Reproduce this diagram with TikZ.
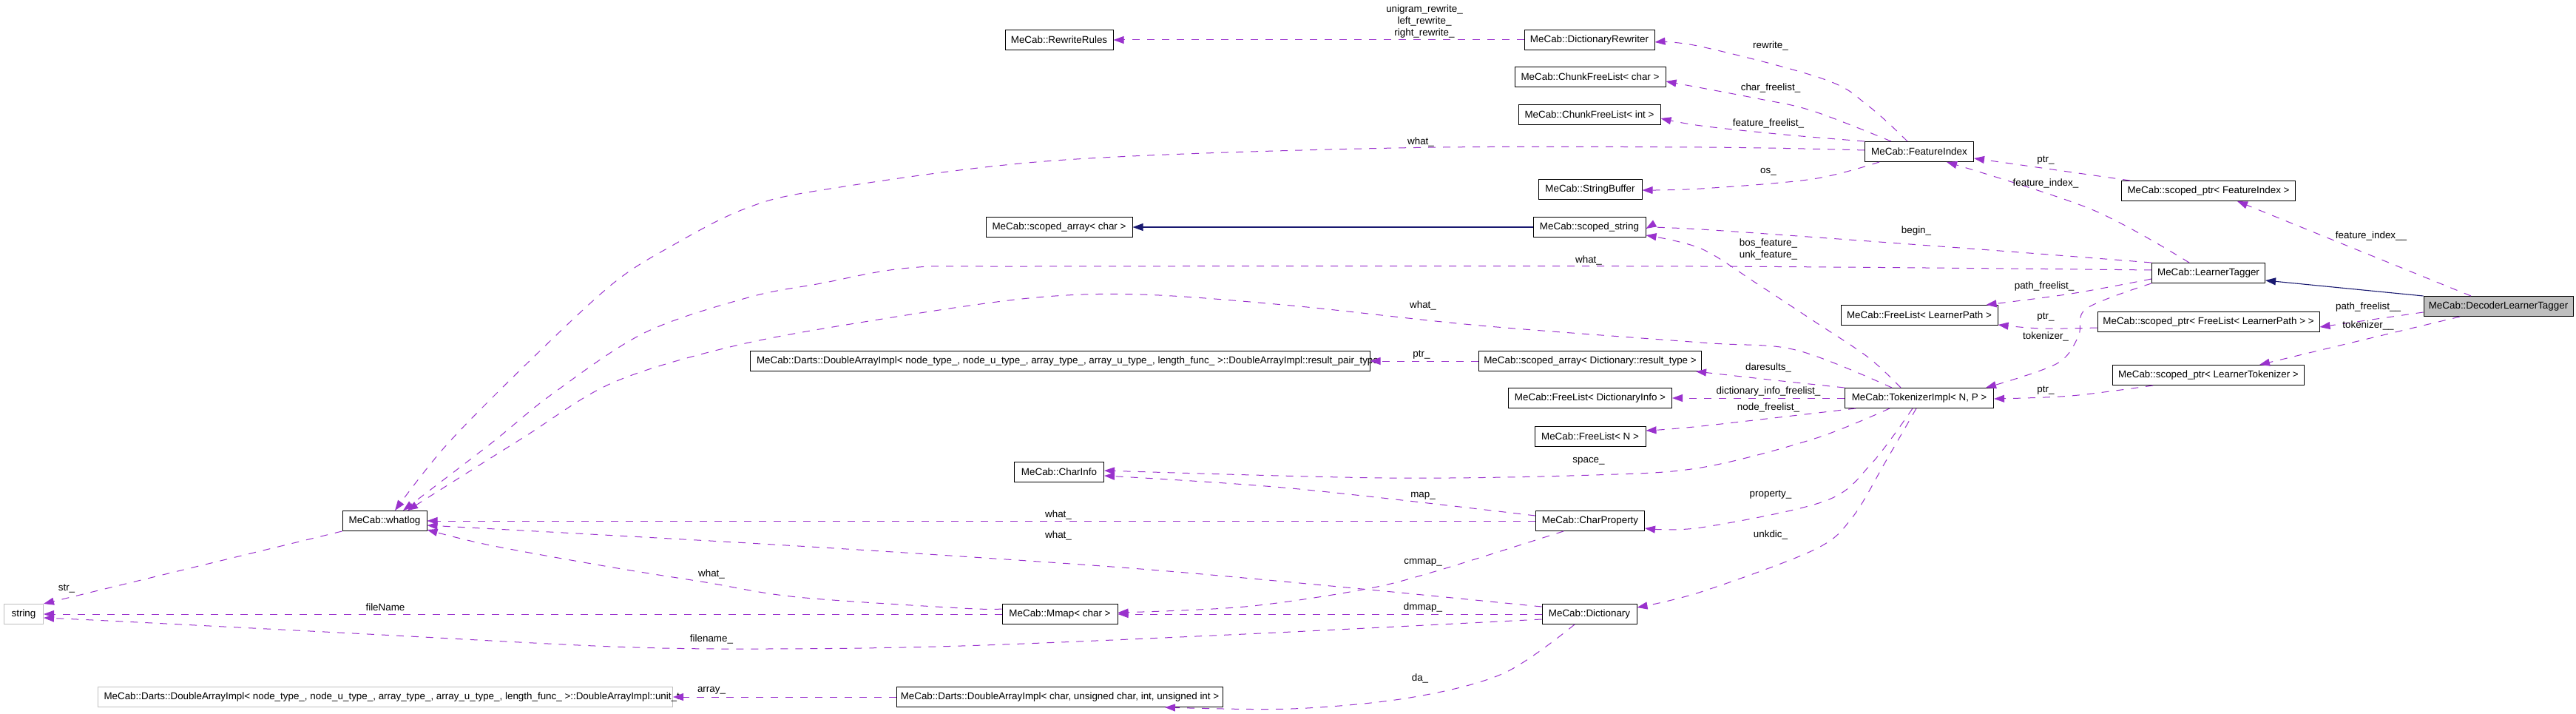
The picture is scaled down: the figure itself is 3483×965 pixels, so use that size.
\documentclass[tikz,border=0pt]{standalone}
\usepackage{fontspec}
\setmainfont{Liberation Sans}
\usetikzlibrary{arrows.meta}
\definecolor{depc}{HTML}{9A32CD}
\definecolor{inhc}{HTML}{191970}
\definecolor{grayb}{HTML}{BFBFBF}
\begin{document}
\begin{tikzpicture}[x=1pt,y=-1pt,
  cls/.style={draw=black, line width=1pt, rectangle, minimum height=27pt, inner sep=0pt, font=\fontsize{13.4}{15}\selectfont},
  extcls/.style={cls, draw=grayb},
  dep/.style={draw=depc, dash pattern=on 10pt off 10pt, line width=1pt, -{Triangle[length=14pt,width=10pt]}},
  inh/.style={draw=inhc, line width=1.1pt, -{Triangle[length=14pt,width=10pt]}},
  lbl/.style={font=\fontsize{13.4}{16}\selectfont, inner sep=0pt, align=center}]
\useasboundingbox (0,0) rectangle (3483,965);
% nodes
\node[cls, minimum width=146pt] (RR) at (1432,54) {MeCab::RewriteRules};
\node[cls, minimum width=176pt] (DR) at (2149,54) {MeCab::DictionaryRewriter};
\node[cls, minimum width=204pt] (CC) at (2150,104) {MeCab::ChunkFreeList< char >};
\node[cls, minimum width=192pt] (CI) at (2149,155) {MeCab::ChunkFreeList< int >};
\node[cls, minimum width=140pt] (SB) at (2150,256) {MeCab::StringBuffer};
\node[cls, minimum width=198pt] (SAC) at (1432,307) {MeCab::scoped\_array< char >};
\node[cls, minimum width=152pt] (SS) at (2149,307) {MeCab::scoped\_string};
\node[cls, inner xsep=9pt] (RP) at (1433,488) {\makebox[820pt][l]{MeCab::Darts::DoubleArrayImpl< node\_type\_, node\_u\_type\_, array\_type\_, array\_u\_type\_, length\_func\_ >::DoubleArrayImpl::result\_pair\_type}};
\node[cls, minimum width=301pt] (SAD) at (2150,488) {MeCab::scoped\_array< Dictionary::result\_type >};
\node[cls, minimum width=221pt] (FDI) at (2150,538) {MeCab::FreeList< DictionaryInfo >};
\node[cls, minimum width=150pt] (FN) at (2150,590) {MeCab::FreeList< N >};
\node[cls, minimum width=121pt] (CInfo) at (1432,638) {MeCab::CharInfo};
\node[cls, minimum width=114pt] (WL) at (520,704) {MeCab::whatlog};
\node[cls, minimum width=147pt] (CP) at (2150,704) {MeCab::CharProperty};
\node[extcls, minimum width=53pt] (STR) at (32,830) {string};
\node[cls, minimum width=156pt] (MM) at (1433,830) {MeCab::Mmap< char >};
\node[cls, minimum width=128pt] (DIC) at (2149,830) {MeCab::Dictionary};
\node[extcls, inner xsep=8pt] (UT) at (521,942) {\makebox[761pt][l]{MeCab::Darts::DoubleArrayImpl< node\_type\_, node\_u\_type\_, array\_type\_, array\_u\_type\_, length\_func\_ >::DoubleArrayImpl::unit\_t}};
\node[cls, minimum width=441pt] (DAC) at (1433,942) {MeCab::Darts::DoubleArrayImpl< char, unsigned char, int, unsigned int >};
\node[cls, minimum width=147pt] (FI) at (2595,205) {MeCab::FeatureIndex};
\node[cls, minimum width=235pt] (SPFI) at (2986,258) {MeCab::scoped\_ptr< FeatureIndex >};
\node[cls, minimum width=153pt] (LT) at (2986,369) {MeCab::LearnerTagger};
\node[cls, minimum width=202pt, fill=grayb] (DLT) at (3378,414) {MeCab::DecoderLearnerTagger};
\node[cls, minimum width=212pt] (FLLP) at (2595,426) {MeCab::FreeList< LearnerPath >};
\node[cls, minimum width=300pt] (SPFLLP) at (2986,435) {MeCab::scoped\_ptr< FreeList< LearnerPath > >};
\node[cls, minimum width=259pt] (SPLT) at (2986,507) {MeCab::scoped\_ptr< LearnerTokenizer >};
\node[cls, minimum width=201pt] (TI) at (2595,538) {MeCab::TokenizerImpl< N, P >};
% inheritance
\draw[inh] (SS.west) -- (SAC.east);
\draw[inh] (DLT.north west) -- ([yshift=4pt]LT.south east);
% usage edges
\draw[dep] (DR.west) -- (RR.east);
\draw[dep] plot[smooth,tension=0.6] coordinates {([xshift=-16pt]FI.north) (2526,143) (2466,107) (2300,63) ([yshift=-3pt]DR.east)};
\draw[dep] plot[smooth,tension=0.6] coordinates {([xshift=-38pt]FI.north) (2451,150) (2375,133) ([yshift=-6pt]CC.east)};
\draw[dep] plot[smooth,tension=0.6] coordinates {(FI.north west) (2413,182) (2300,170) ([yshift=-5pt]CI.east)};
\draw[dep] plot[smooth,tension=0.55] coordinates {([yshift=2pt]FI.west) (2300,199) (1887,200) (1426,217) (1110,257) (1005,283) (907,333) (829,383) (721,483) (605,600) ([xshift=14pt]WL.north)};
\draw[dep] plot[smooth,tension=0.55] coordinates {([xshift=20pt]FI.south west) (2451,242) (2300,255) ([yshift=-1pt]SB.east)};
\draw[dep] plot[smooth,tension=0.55] coordinates {([yshift=4pt]LT.west) (2300,360) (1400,360) (1230,362) (1110,383) (1012,402) (871,450) (746,533) (663,600) ([xshift=25pt]WL.north)};
\draw[dep] plot[smooth,tension=0.55] coordinates {([xshift=-37pt]TI.north) (2428,473) (2300,463) (2001,440) (1746,413) (1542,398) (1391,403) (1181,433) (995,467) (829,517) (705,593) ([xshift=31pt]WL.north)};
\draw[dep] (CP.west) -- (WL.east);
\draw[dep] plot[smooth,tension=0.55] coordinates {([yshift=10pt]DIC.west) (1810,793) (1555,770) (1300,752) (995,733) ([yshift=-6pt]WL.east)};
\draw[dep] plot[smooth,tension=0.55] coordinates {([yshift=7pt]MM.west) (1300,822) (1078,807) (954,787) (829,767) (663,737) ([yshift=-12pt]WL.east)};
\draw[dep] (MM.west) -- (STR.east);
\draw[dep] plot[smooth,tension=0.55] coordinates {([yshift=-7pt]DIC.west) (1683,857) (1300,873) (1036,877) (829,874) (497,857) (166,840) ([yshift=-5pt]STR.east)};
\draw[dep] (DIC.west) -- (MM.east);
\draw[dep] plot[smooth,tension=0.55] coordinates {([xshift=-36pt]CP.south) (1938,773) (1842,797) (1683,820) ([yshift=2pt]MM.east)};
\draw[dep] plot[smooth,tension=0.55] coordinates {([yshift=7pt]CP.west) (1746,660) ([yshift=-5pt]CInfo.east)};
\draw[dep] plot[smooth,tension=0.55] coordinates {([xshift=-40pt]TI.south) (2453,593) (2300,632) (2155,642) (1874,646) ([yshift=2pt]CInfo.east)};
\draw[dep] plot[smooth,tension=0.55] coordinates {([xshift=-9pt]TI.south) (2530,627) (2468,677) (2300,713) ([yshift=-10pt]CP.east)};
\draw[dep] plot[smooth,tension=0.55] coordinates {([xshift=-4pt]TI.south) (2550,623) (2504,700) (2453,743) (2300,800) ([yshift=9pt]DIC.east)};
\draw[dep] plot[smooth,tension=0.55] coordinates {([xshift=15pt]TI.south west) (2300,576) ([yshift=8pt]FN.east)};
\draw[dep] (TI.west) -- (FDI.east);
\draw[dep] plot[smooth,tension=0.55] coordinates {(TI.north west) (2400,514) ([xshift=-8pt]SAD.south east)};
\draw[dep] plot[smooth,tension=0.55] coordinates {([xshift=-25pt]TI.north) (2526,483) (2451,433) (2375,383) (2300,336) ([yshift=-11pt]SS.east)};
\draw[dep] (SAD.west) -- (RP.east);
\draw[dep] (DAC.west) -- (UT.east);
\draw[dep] plot[smooth,tension=0.55] coordinates {([xshift=-20pt]DIC.south) (2033,910) (1906,943) (1746,958) ([xshift=-79pt]DAC.south east)};
\draw[dep] (WL.south west) -- (STR.north east);
\draw[dep] plot[smooth,tension=0.55] coordinates {(LT.north west) (2677,337) (2300,310) ([yshift=-2pt]SS.east)};
\draw[dep] plot[smooth,tension=0.55] coordinates {([xshift=-26pt]LT.north) (2828,283) ([xshift=37pt]FI.south)};
\draw[dep] plot[smooth,tension=0.55] coordinates {([yshift=-8pt]LT.west) (2800,397) ([xshift=-16pt]FLLP.north east)};
\draw[dep] plot[smooth,tension=0.55] coordinates {(LT.south west) (2821,417) (2810,455) (2780,492) ([xshift=-11pt]TI.north east)};
\draw[dep] ([xshift=12pt]SPFI.north west) -- ([yshift=-9pt]FI.east);
\draw[dep] plot[smooth,tension=0.55] coordinates {([yshift=-8pt]SPFLLP.west) (2760,444) ([yshift=-13pt]FLLP.east)};
\draw[dep] plot[smooth,tension=0.55] coordinates {([xshift=55pt]SPLT.south west) (2800,535) ([yshift=-1pt]TI.east)};
\draw[dep] ([xshift=-37pt]DLT.north) -- ([xshift=39pt]SPFI.south);
\draw[dep] ([yshift=-8pt]DLT.west) -- ([yshift=-7pt]SPFLLP.east);
\draw[dep] ([xshift=-52pt]DLT.south) -- ([xshift=69pt]SPLT.north);
% labels
\node[lbl] (l1) at (1926,29) {unigram\_rewrite\_\\left\_rewrite\_\\right\_rewrite\_};
\node[lbl] (l2) at (2394,62) {rewrite\_};
\node[lbl] (l3) at (2394,119) {char\_freelist\_};
\node[lbl] (l4) at (2391,167) {feature\_freelist\_};
\node[lbl] (l5) at (1921,192) {what\_};
\node[lbl] (l6) at (2391,232) {os\_};
\node[lbl] (l7) at (2766,217) {ptr\_};
\node[lbl] (l8) at (2766,248) {feature\_index\_};
\node[lbl] (l9) at (3206,319) {feature\_index\_\_};
\node[lbl] (l10) at (2591,312) {begin\_};
\node[lbl] (l11) at (2391,337) {bos\_feature\_\\unk\_feature\_};
\node[lbl] (l12) at (2148,352) {what\_};
\node[lbl] (l13) at (2764,387) {path\_freelist\_};
\node[lbl] (l14) at (1924,413) {what\_};
\node[lbl] (l15) at (3202,415) {path\_freelist\_\_};
\node[lbl] (l16) at (2766,429) {ptr\_};
\node[lbl] (l17) at (3202,440) {tokenizer\_\_};
\node[lbl] (l18) at (2766,455) {tokenizer\_};
\node[lbl] (l19) at (1922,480) {ptr\_};
\node[lbl] (l20) at (2391,497) {daresults\_};
\node[lbl] (l21) at (2766,528) {ptr\_};
\node[lbl] (l22) at (2391,529) {dictionary\_info\_freelist\_};
\node[lbl] (l23) at (2391,551) {node\_freelist\_};
\node[lbl] (l24) at (2148,623) {space\_};
\node[lbl] (l25) at (2394,669) {property\_};
\node[lbl] (l26) at (1924,670) {map\_};
\node[lbl] (l27) at (1431,696) {what\_};
\node[lbl] (l28) at (1431,724) {what\_};
\node[lbl] (l29) at (2394,723) {unkdic\_};
\node[lbl] (l30) at (1924,760) {cmmap\_};
\node[lbl] (l31) at (962,776) {what\_};
\node[lbl] (l32) at (90,795) {str\_};
\node[lbl] (l33) at (521,821) {fileName};
\node[lbl] (l34) at (1924,821) {dmmap\_};
\node[lbl] (l35) at (962,864) {filename\_};
\node[lbl] (l36) at (1920,917) {da\_};
\node[lbl] (l37) at (962,933) {array\_};
\end{tikzpicture}
\end{document}
